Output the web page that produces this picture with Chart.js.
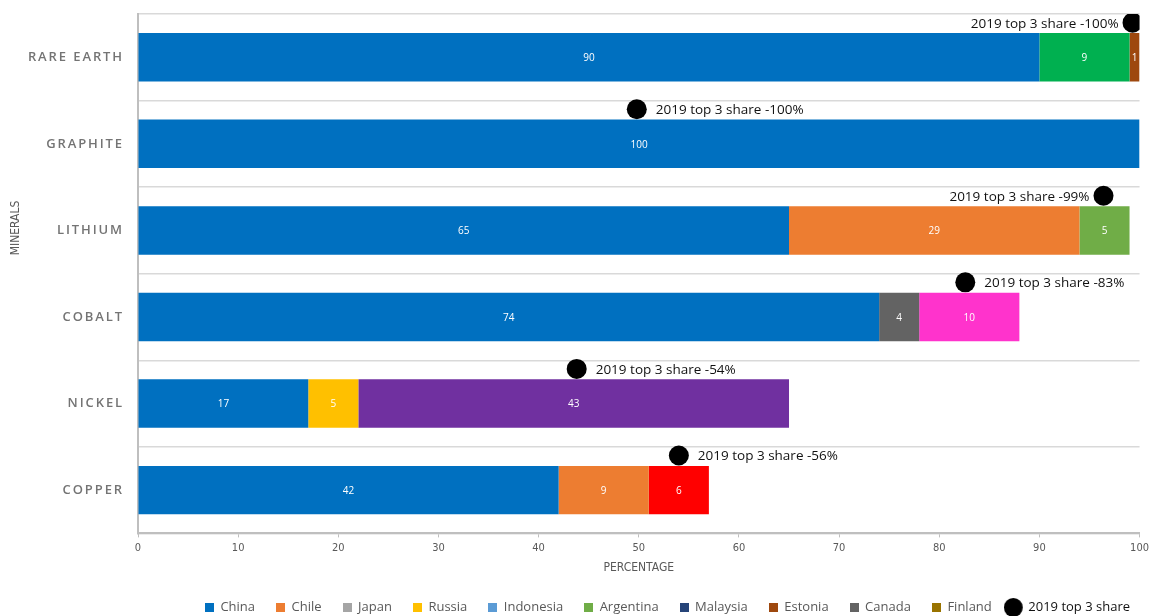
<!DOCTYPE html>
<html>
<head>
<meta charset="utf-8">
<script src="https://cdn.jsdelivr.net/npm/chart.js@4.4.0/dist/chart.umd.min.js"></script>
<style>
  html, body { margin: 0; padding: 0; background: #fff; }
  #wrap { width: 1153px; height: 616px; }
</style>
</head>
<body>
<div id="wrap"><canvas id="grafica" width="1153" height="616"></canvas></div>
<script>
// Categories (y axis)
const minerals = ["RARE EARTH", "GRAPHITE", "LITHIUM", "COBALT", "NICKEL", "COPPER"];

// Share per country, one value per mineral (null = not there)
const china = [90, 100, 65, 74, 17, 42];
const chile = [null, null, 29, null, null, 9];
const japan = [null, null, null, null, null, 6];
const russia = [null, null, null, null, 5, null];
const indonesia = [null, null, null, null, 43, null];
const argentina = [null, null, 5, null, null, null];
const malaysia = [9, null, null, null, null, null];
const estonia = [1, null, null, null, null, null];
const canada = [null, null, null, 4, null, null];
const finland = [null, null, null, 10, null, null];

// 2019 top 3 share (label) and where the dot sits on the x axis
const top3Share = [100, 100, 99, 83, 54, 56];
const dotX = [99.3, 49.8, 96.4, 82.6, 43.8, 54.0];
const dotSide = ["left", "right", "left", "right", "right", "right"];

// x axis ticks
const xTicks = [0, 10, 20, 30, 40, 50, 60, 70, 80, 90, 100];

// colours of each series, with the odd per-bar overrides from the original
const series = [
  { label: "China", data: china, color: "#0070C0" },
  { label: "Chile", data: chile, color: "#ED7D31" },
  { label: "Japan", data: japan, color: "#A5A5A5", override: { 5: "#FF0000" } },
  { label: "Russia", data: russia, color: "#FFC000" },
  { label: "Indonesia", data: indonesia, color: "#5B9BD5", override: { 4: "#7030A0" } },
  { label: "Argentina", data: argentina, color: "#70AD47" },
  { label: "Malaysia", data: malaysia, color: "#264478", override: { 0: "#00B050" } },
  { label: "Estonia", data: estonia, color: "#9E480E" },
  { label: "Canada", data: canada, color: "#636363" },
  { label: "Finland", data: finland, color: "#997300", override: { 3: "#FF33CC" } },
];

const FONT = "'Open Sans', 'DejaVu Sans', sans-serif";
const NARROW = "'Liberation Sans Narrow', 'DejaVu Sans Condensed', sans-serif";
const GRIS = "#595959";

// little legend markers
function marca(color, size, shift) {
  const c = document.createElement("canvas");
  c.width = size + shift * 2;
  c.height = size;
  const g = c.getContext("2d");
  g.fillStyle = color;
  if (shift) {
    g.beginPath();
    g.arc(size / 2, size / 2, size / 2, 0, Math.PI * 2);
    g.fill();
  } else {
    g.fillRect(0, 0, size, size);
  }
  return c;
}

const datasets = series.map((s) => ({
  type: "bar",
  label: s.label,
  data: s.data,
  grouped: false,
  backgroundColor: s.data.map((v, i) => (s.override && s.override[i]) || s.color),
  borderWidth: 0,
  categoryPercentage: 1,
  barPercentage: 0.56,
  xAxisID: "x",
  yAxisID: "y",
}));

datasets.push({
  type: "scatter",
  label: "2019 top 3 share",
  indexAxis: "x",
  data: dotX.map((x, i) => ({ x: x, y: i })),
  backgroundColor: "#000",
  borderWidth: 0,
  pointRadius: 10,
  pointHoverRadius: 10,
  xAxisID: "x",
  yAxisID: "y2",
});
const dotIndex = datasets.length - 1;

// bar values, dot labels, category labels and the y title
const etiquetas = {
  id: "etiquetas",
  afterLayout(chart) {
    // the legend sits a bit right of centre in the original
    chart.legend.left += 8;
    chart.legend.right += 8;
  },
  afterDatasetsDraw(chart) {
    const ctx = chart.ctx;
    ctx.save();
    ctx.font = "10px " + FONT;
    ctx.fillStyle = "#fff";
    ctx.textAlign = "center";
    ctx.textBaseline = "middle";
    series.forEach((s, i) => {
      chart.getDatasetMeta(i).data.forEach((bar, j) => {
        const v = s.data[j];
        if (!v) return;
        ctx.fillText(String(v), (bar.x + bar.base) / 2, bar.y + 1);
      });
    });

    ctx.font = "13.5px " + FONT;
    ctx.fillStyle = "#111";
    chart.getDatasetMeta(dotIndex).data.forEach((p, j) => {
      const izq = dotSide[j] === "left";
      ctx.textAlign = izq ? "right" : "left";
      ctx.fillText("2019 top 3 share -" + top3Share[j] + "%", p.x + (izq ? -14 : 19), p.y + 1);
    });
    ctx.restore();
  },
  afterDraw(chart) {
    const ctx = chart.ctx;
    const y = chart.scales.y;
    ctx.save();
    ctx.font = "600 13px " + FONT;
    ctx.fillStyle = "#747474";
    ctx.textAlign = "right";
    ctx.textBaseline = "middle";
    ctx.letterSpacing = "1.9px";
    minerals.forEach((m, i) => {
      ctx.fillText(m, 124, y.getPixelForTick(i));
    });
    ctx.letterSpacing = "0px";
    ctx.translate(16, 228);
    ctx.rotate(-Math.PI / 2);
    ctx.textAlign = "center";
    ctx.fillStyle = GRIS;
    ctx.font = "12px " + NARROW;
    ctx.fillText("MINERALS", 0, 0);
    ctx.restore();
  },
};

new Chart(document.getElementById("grafica"), {
  data: { labels: minerals, datasets },
  options: {
    responsive: false,
    animation: false,
    indexAxis: "y",
    layout: { padding: { top: 14, right: 10, left: 0, bottom: -8 } },
    scales: {
      x: {
        type: "linear",
        stacked: true,
        min: 0,
        max: 100,
        afterBuildTicks(scale) {
          scale.ticks = xTicks.map((v) => ({ value: v }));
        },
        grid: { drawOnChartArea: false, drawTicks: true, tickLength: 4, color: "#BFBFBF" },
        border: { color: "#BFBFBF", width: 2 },
        ticks: { color: GRIS, font: { family: NARROW, size: 11 }, padding: 4, maxRotation: 0 },
        title: { display: true, text: "PERCENTAGE", color: GRIS, font: { family: NARROW, size: 12 }, padding: { top: 2, bottom: 5 } },
      },
      y: {
        type: "category",
        stacked: true,
        offset: true,
        afterFit(scale) {
          scale.width = 138;
        },
        ticks: { display: false },
        grid: { color: "#D9D9D9", lineWidth: 1.5, drawTicks: false, offset: true },
        border: { color: "#BFBFBF", width: 2 },
      },
      y2: {
        type: "linear",
        display: false,
        reverse: true,
        min: -0.1,
        max: 5.9,
      },
    },
    plugins: {
      tooltip: { enabled: false },
      legend: {
        position: "bottom",
        align: "end",
        onClick: null,
        labels: {
          color: GRIS,
          font: { family: FONT, size: 13 },
          usePointStyle: true,
          pointStyleWidth: 9,
          padding: 21,
          generateLabels() {
            const items = series.map((s, i) => ({
              text: s.label,
              fillStyle: s.color,
              strokeStyle: "transparent",
              lineWidth: 0,
              pointStyle: marca(s.color, 9, 0),
              hidden: false,
              datasetIndex: i,
              fontColor: GRIS,
            }));
            items.push({
              text: "2019 top 3 share",
              fillStyle: "#000",
              strokeStyle: "transparent",
              lineWidth: 0,
              pointStyle: marca("#000", 19, 4),
              hidden: false,
              datasetIndex: dotIndex,
              fontColor: "#111",
            });
            return items;
          },
        },
      },
    },
  },
  plugins: [etiquetas],
});
</script>
</body>
</html>
